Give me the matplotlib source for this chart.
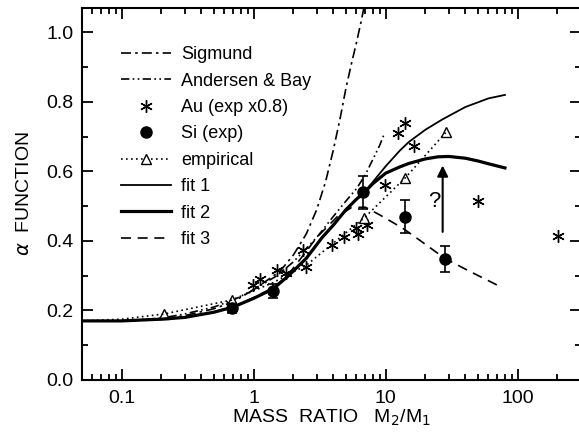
import numpy as np
import matplotlib
matplotlib.use("Agg")
import matplotlib.pyplot as plt
from matplotlib.ticker import MultipleLocator, FixedLocator, NullFormatter
from matplotlib.lines import Line2D

plt.rcParams['font.family']=['Liberation Sans','DejaVu Sans']

# Sigmund (dash-dot)
sig_x=[0.05,0.1,0.2,0.3,0.5,0.7,1.0,1.3,1.6,2.0,2.5,3.0,3.5,4.0,4.5,5.0,5.5,6.0,6.5,7.0]
sig_y=[0.17,0.17,0.175,0.185,0.205,0.225,0.26,0.29,0.315,0.36,0.42,0.49,0.57,0.66,0.75,0.84,0.91,0.97,1.03,1.09]

# Andersen & Bay (dash-dot-dot)
ab_x=[0.05,0.1,0.2,0.3,0.5,0.7,1.0,1.5,2.0,3.0,4.0,5.0,6.0,7.0,8.0,9.0,9.8]
ab_y=[0.17,0.17,0.178,0.19,0.21,0.23,0.26,0.30,0.34,0.41,0.47,0.515,0.55,0.59,0.635,0.675,0.71]

# fit 1 (thin solid)
f1_x=[0.05,0.1,0.2,0.3,0.5,0.7,1.0,1.4,1.8,2.5,3.3,4.0,5.0,6.0,6.9,8.0,10.0,12.8,15.0,20.0,27.0,40.0,60.0,80.0]
f1_y=[0.17,0.17,0.175,0.18,0.195,0.21,0.235,0.262,0.297,0.35,0.41,0.445,0.49,0.52,0.54,0.57,0.615,0.66,0.685,0.72,0.75,0.785,0.81,0.82]

# fit 2 (thick solid)
f2_x=[0.05,0.1,0.2,0.3,0.5,0.7,1.0,1.4,1.8,2.5,3.3,4.0,5.0,6.0,6.9,8.0,10.0,12.8,15.0,20.0,25.0,30.0,40.0,50.0,60.0,80.0]
f2_y=[0.17,0.17,0.175,0.18,0.195,0.21,0.235,0.262,0.297,0.35,0.41,0.445,0.49,0.52,0.54,0.565,0.595,0.613,0.623,0.636,0.642,0.643,0.638,0.63,0.622,0.61]

# fit 3 (dashed)
f3_x=[0.05,0.1,0.2,0.3,0.5,0.7,1.0,1.4,1.8,2.5,3.0,4.3,5.5,7.0,9.0,13.4,17.5,28.0,41.0,77.0]
f3_y=[0.17,0.17,0.175,0.18,0.195,0.21,0.237,0.265,0.30,0.37,0.41,0.47,0.496,0.497,0.475,0.437,0.406,0.35,0.317,0.265]

# empirical (dotted + open triangles)
emp_x=[0.05,0.1,0.21,0.68,1.4,2.5,6.9,14.1,28.5]
emp_y=[0.17,0.175,0.19,0.23,0.28,0.33,0.467,0.582,0.712]
emp_mx=[0.21,0.68,6.9,14.1,28.5]
emp_my=[0.19,0.23,0.467,0.582,0.712]

# Au (exp x0.8)
au_x=[0.98,1.11,1.5,1.75,2.35,2.47,3.9,4.8,6.0,6.2,7.2,9.8,12.3,14.1,16.3,49.6,201]
au_y=[0.274,0.29,0.315,0.308,0.375,0.326,0.388,0.41,0.437,0.42,0.447,0.56,0.71,0.738,0.674,0.516,0.415]

# Si (exp)
si_x=[0.68,1.39,6.7,14.1,27.9]
si_y=[0.207,0.256,0.54,0.47,0.349]
si_err=[0.015,0.02,0.048,0.047,0.037]

fig=plt.figure(figsize=(5.79,4.43),dpi=100)
ax=fig.add_axes([82/579,63/443,498.7/579,372/443])

h_sig,=ax.plot(sig_x,sig_y,color='k',lw=1.2,dashes=(6,2.5,1.5,2.5))
h_ab,=ax.plot(ab_x,ab_y,color='k',lw=1.2,dashes=(5,2,1,2,1,2))
h_au,=ax.plot(au_x,au_y,ls='none',marker=(6,2,0),ms=9,mew=1.0,color='k')
ax.errorbar(si_x,si_y,yerr=si_err,fmt='o',ms=8,color='k',ecolor='k',elinewidth=1.2,capsize=3.5,capthick=1.2)
h_si=Line2D([],[],ls='none',marker='o',ms=8,color='k')
ax.plot(emp_x,emp_y,color='k',lw=1.2,dashes=(1,2),zorder=3)
ax.plot(emp_mx,emp_my,ls='none',marker='^',ms=7,mfc='white',mec='k',mew=1.0)
h_emp=Line2D([],[],color='k',lw=1.2,dashes=(1,2),marker='^',ms=7,mfc='white',mec='k',mew=1.0)
h_f1,=ax.plot(f1_x,f1_y,color='k',lw=1.3)
h_f2,=ax.plot(f2_x,f2_y,color='k',lw=2.3)
h_f3,=ax.plot(f3_x,f3_y,color='k',lw=1.2,dashes=(6,4))

ax.annotate('',xy=(27,0.625),xytext=(27,0.418),
            arrowprops=dict(arrowstyle='-|>',lw=1.5,color='k',mutation_scale=16))
ax.text(23.5,0.513,'?',fontsize=16,ha='center',va='center')

ax.set_xscale('log')
ax.set_xlim(0.05,300)
ax.set_ylim(0,1.07)
ax.yaxis.set_major_locator(MultipleLocator(0.2))
ax.yaxis.set_minor_locator(MultipleLocator(0.1))
ax.xaxis.set_major_locator(FixedLocator([0.1,1,10,100]))
ax.xaxis.set_major_formatter(matplotlib.ticker.FixedFormatter(['0.1','1','10','100']))
ax.xaxis.set_minor_formatter(NullFormatter())
ax.tick_params(which='both',direction='in',top=True,right=True,width=1.3,labelsize=14)
ax.tick_params(which='major',length=8)
ax.tick_params(which='minor',length=4)
ax.tick_params(axis='x',pad=7)
ax.tick_params(axis='y',pad=6)
ax.yaxis.set_major_formatter(matplotlib.ticker.FormatStrFormatter('%.1f'))
for s in ax.spines.values():
    s.set_linewidth(1.5)

ax.set_xlabel('MASS  RATIO   M$_2$/M$_1$',fontsize=14,labelpad=1)
ax.set_ylabel(r'$\alpha$  FUNCTION',fontsize=14,labelpad=10)

ax.legend([h_sig,h_ab,h_au,h_si,h_emp,h_f1,h_f2,h_f3],
          ['Sigmund','Andersen & Bay','Au (exp x0.8)','Si (exp)','empirical','fit 1','fit 2','fit 3'],
          loc='upper left',bbox_to_anchor=(0.078,0.897),frameon=False,fontsize=13,
          handlelength=2.75,handletextpad=0.6,labelspacing=0.52,borderpad=0,borderaxespad=0)

fig.savefig('out.png',dpi=100)
